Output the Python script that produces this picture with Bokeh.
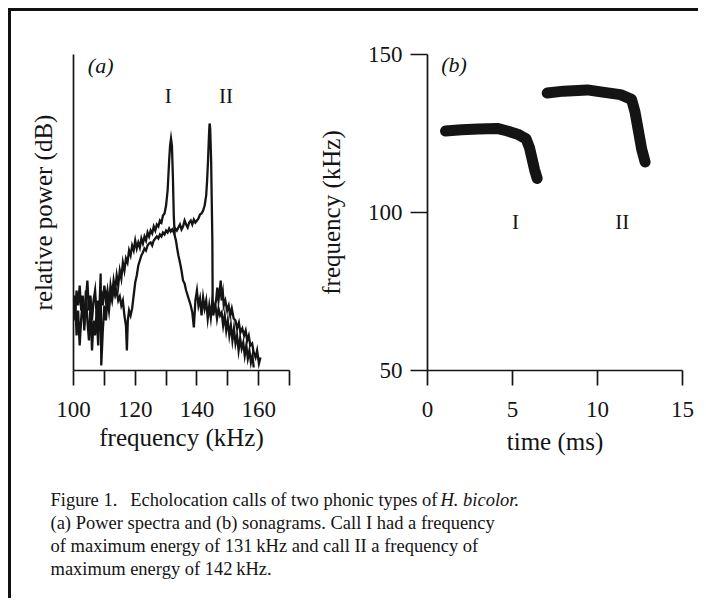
from bokeh.plotting import figure
from bokeh.models import FixedTicker, Range1d
from bokeh.layouts import column, row
from bokeh.embed import file_html
from bokeh.resources import INLINE
from bokeh.core.properties import value

FONT = "Liberation Serif"
INK = "#141414"

# ---------------- data ----------------
# (a) power spectra: frequency (kHz) and relative power (dB above floor)
spec1_freq = [100.0, 100.5, 101.0, 101.5, 102.0, 102.5, 103.0, 103.5, 104.0, 104.5,
              105.0, 105.5, 106.0, 106.5, 107.0, 107.5, 108.0, 108.5, 109.0, 109.5,
              110.0, 110.5, 111.0, 111.5, 112.0, 112.5, 113.0, 113.5, 114.0, 114.5,
              115.0, 115.5, 116.0, 116.5, 117.0, 117.5, 118.0, 118.5, 119.0, 119.5,
              120.0, 120.5, 121.0, 121.5, 122.0, 122.5, 123.0, 123.5, 124.0, 124.5,
              125.0, 125.5, 126.0, 126.5, 127.0, 127.5, 128.0, 128.5, 129.0, 129.5,
              130.0, 130.5, 131.0, 131.3, 131.6, 131.9, 132.2, 132.5, 132.8, 133.2,
              133.6, 134.0, 134.5, 135.0, 135.5, 136.0, 136.5, 137.0, 137.5, 138.0,
              138.5, 139.0, 139.5, 140.0, 140.5, 141.0, 141.5, 142.0, 142.5, 143.0,
              143.5, 144.0, 144.5, 145.0, 145.5, 146.0, 146.5, 147.0, 147.5, 148.0,
              148.5, 149.0, 149.5, 150.0, 150.5, 151.0, 151.5, 152.0, 152.5, 153.0,
              153.5, 154.0, 154.5, 155.0, 155.5, 156.0, 156.5, 157.0, 157.5, 158.0,
              158.4]
spec1_power = [14, 11, 16, 13, 17, 12, 15, 9, 14, 18,
               12, 15, 10, 14, 16, 11, 14, 8, 16, 13,
               17, 14, 16, 13, 17, 15, 18, 16, 19, 17,
               20, 18.4, 21.6, 20, 22.4, 21.6, 24, 23, 25, 24,
               26, 24.4, 25.6, 24.6, 26.4, 25.4, 26.8, 26, 27.6, 26.8,
               28, 27.4, 28.8, 28, 29.2, 28.8, 30, 29.6, 31, 31.4,
               33, 36, 42, 45, 46.4, 45, 39, 31, 27, 26,
               24.4, 23, 21.6, 20, 18, 17.4, 16, 15, 14, 13,
               11.6, 8.6, 14, 16, 13, 14.4, 11, 14.6, 12.4, 14,
               10.4, 13, 10.6, 14, 12, 13, 10.4, 12.4, 11, 11.6,
               9, 11, 8, 10, 7, 9, 6, 8.4, 5.4, 7,
               4, 6.4, 4.4, 5.6, 3, 5, 2.4, 4, 1.6, 3,
               0.6]

spec2_freq = [100.0, 100.5, 101.0, 101.5, 102.0, 102.5, 103.0, 103.5, 104.0, 104.5,
              105.0, 105.5, 106.0, 106.5, 107.0, 107.5, 108.0, 108.5, 108.8, 109.0,
              109.5, 110.0, 110.5, 111.0, 111.5, 112.0, 112.5, 113.0, 113.5, 114.0,
              114.5, 115.0, 115.5, 116.0, 116.5, 117.0, 117.3, 117.6, 118.0, 118.5,
              119.0, 119.5, 120.0, 120.5, 121.0, 121.5, 122.0, 122.5, 123.0, 123.5,
              124.0, 124.5, 125.0, 125.5, 126.0, 126.5, 127.0, 127.5, 128.0, 128.5,
              129.0, 129.5, 130.0, 130.5, 131.0, 131.5, 132.0, 132.5, 133.0, 133.5,
              134.0, 134.5, 135.0, 135.5, 136.0, 136.5, 137.0, 137.5, 138.0, 138.5,
              139.0, 139.5, 140.0, 140.5, 141.0, 141.5, 142.0, 142.5, 143.0, 143.3,
              143.6, 143.9, 144.1, 144.3, 144.6, 144.8, 145.0, 145.1, 145.3, 145.8,
              146.2, 146.6, 147.0, 147.4, 147.7, 148.0, 148.4, 148.7, 149.2, 149.8,
              150.3, 150.8, 151.3, 151.9, 152.5, 153.0, 153.6, 154.1, 154.7, 155.3,
              155.8, 156.3, 156.8, 157.3, 157.9, 158.4, 159.0, 159.5, 160.1, 160.6]
spec2_power = [10, 15, 7, 12, 5, 10.4, 14, 8, 16, 10,
               6, 13, 4, 10, 7, 12, 5, 14, 19.4, 1,
               8, 13, 10, 14.4, 12, 15.6, 14, 16.4, 15, 16,
               14, 14.8, 13, 14, 11, 9, 4, 10, 12, 11,
               12.4, 15, 17.6, 19, 21, 22, 23, 23.6, 24.4, 24,
               25, 25.4, 25.6, 25, 26, 26.4, 26.8, 26.4, 27.2, 26.8,
               27.6, 27.2, 28, 27.6, 28.4, 27.8, 28.2, 27.6, 28.4, 28,
               28.6, 29.2, 28.2, 28.8, 30, 29.2, 28.6, 29.6, 30, 29.2,
               30.2, 29.6, 30, 30.4, 31.2, 31.4, 32, 33, 35, 38,
               42, 47, 49.4, 48.4, 42, 34, 26, 14, 11, 13,
               14, 16.6, 14, 16, 18, 14, 15.6, 13, 14, 12,
               13, 11, 12.4, 10.4, 10, 8.4, 9.6, 7.6, 8.4, 7,
               8, 6, 7, 5, 5.4, 3.6, 2.6, 4, 1.4, 2.6]

spec_ticks = [100, 120, 140, 160]
spec_minor = [110, 130, 150, 170]

# (b) sonagrams: time (ms) and frequency (kHz)
call1_time = [1.06, 2.0, 3.0, 4.1, 4.7, 5.3, 5.8, 6.0, 6.15, 6.3, 6.45]
call1_freq = [125.8, 126.2, 126.4, 126.6, 125.8, 124.8, 123.3, 120.5, 117.0, 113.5, 110.8]
call2_time = [7.04, 8.0, 9.4, 10.4, 11.35, 12.0, 12.2, 12.4, 12.6, 12.8]
call2_freq = [137.8, 138.4, 138.8, 138.0, 137.3, 135.8, 132.0, 126.0, 120.0, 116.0]

sono_xticks = [0, 5, 10, 15]
sono_yticks = [50, 100, 150]

caption_lines = [
    "Figure 1.\u2002\u2009Echolocation calls of two phonic types of",
    "(a) Power spectra and (b) sonagrams. Call I had a frequency",
    "of maximum energy of 131\u2009kHz and call II a frequency of",
    "maximum energy of 142\u2009kHz.",
]
caption_italic = "H. bicolor."


def style_axis(ax, tick_out=15):
    ax.axis_line_color = INK
    ax.axis_line_width = 1.7
    ax.major_tick_line_color = INK
    ax.major_tick_line_width = 1.7
    ax.minor_tick_line_color = INK
    ax.minor_tick_line_width = 1.7
    ax.major_tick_out = tick_out
    ax.major_tick_in = 0
    ax.minor_tick_out = tick_out
    ax.minor_tick_in = 0
    ax.major_label_text_font = FONT
    ax.major_label_text_font_size = "23px"
    ax.major_label_text_color = INK
    ax.major_label_standoff = 16
    ax.axis_label_text_font = FONT
    ax.axis_label_text_font_size = "25px"
    ax.axis_label_text_font_style = "normal"
    ax.axis_label_text_color = INK


common = dict(output_backend="svg", toolbar_location=None, height=462,
              min_border_top=46, min_border_bottom=100,
              background_fill_color=None, border_fill_color=None,
              outline_line_color=None)

# ---------------- panel (a) ----------------
pa = figure(width=300, x_range=Range1d(100, 170), y_range=Range1d(0, 63.2),
            min_border_left=65, min_border_right=19, **common)
pa.grid.visible = False
pa.xaxis.ticker = FixedTicker(ticks=spec_ticks, minor_ticks=spec_minor)
pa.xaxis.axis_label = "frequency (kHz)"
pa.yaxis.ticker = FixedTicker(ticks=[])
pa.yaxis.axis_label = "relative power (dB)"
style_axis(pa.xaxis[0])
style_axis(pa.yaxis[0], tick_out=0)
pa.xaxis.axis_label_standoff = 4
pa.yaxis.axis_label_standoff = 17

pa.line(spec2_freq, spec2_power, line_color=INK, line_width=2.3, line_join="miter")
pa.line(spec1_freq, spec1_power, line_color=INK, line_width=2.3, line_join="miter")

pa.text(x=[108.8], y=[61], text=["(a)"], text_font=value(FONT),
        text_font_size="22px", text_font_style="italic", text_color=INK,
        text_align="center", text_baseline="middle")
pa.text(x=[130.7, 149.4], y=[55, 55], text=["I", "II"], text_font=value(FONT),
        text_font_size="21px", text_color=INK,
        text_align="center", text_baseline="middle")

# ---------------- panel (b) ----------------
pb = figure(width=390, x_range=Range1d(0, 15), y_range=Range1d(50, 150),
            min_border_left=119, min_border_right=16, **common)
pb.grid.visible = False
pb.xaxis.ticker = FixedTicker(ticks=sono_xticks)
pb.xaxis.axis_label = "time (ms)"
pb.yaxis.ticker = FixedTicker(ticks=sono_yticks)
pb.yaxis.axis_label = "frequency (kHz)"
style_axis(pb.xaxis[0])
style_axis(pb.yaxis[0], tick_out=17)
pb.yaxis.major_label_standoff = 8
pb.xaxis.axis_label_standoff = 8
pb.yaxis.axis_label_standoff = 20

pb.line(call1_time, call1_freq, line_color=INK, line_width=11,
        line_cap="round", line_join="round")
pb.line(call2_time, call2_freq, line_color=INK, line_width=11,
        line_cap="round", line_join="round")

pb.text(x=[1.56], y=[146.8], text=["(b)"], text_font=value(FONT),
        text_font_size="22px", text_font_style="italic", text_color=INK,
        text_align="center", text_baseline="middle")
pb.text(x=[5.18, 11.45], y=[97.1, 97.1], text=["I", "II"], text_font=value(FONT),
        text_font_size="21px", text_color=INK,
        text_align="center", text_baseline="middle")

# ---------------- caption ----------------
pc = figure(width=690, height=128, x_range=Range1d(0, 690), y_range=Range1d(128, 0),
            output_backend="svg", toolbar_location=None,
            x_axis_location=None, y_axis_location=None,
            min_border=0, background_fill_color=None, border_fill_color=None,
            outline_line_color=None)
pc.grid.visible = False
pc.text(x=[42, 42, 42, 42], y=[29, 52, 75, 98], text=caption_lines,
        text_font=value(FONT), text_font_size="18.5px", text_color=INK,
        text_align="left", text_baseline="alphabetic")
pc.text(x=[432], y=[29], text=[caption_italic], text_font=value(FONT),
        text_font_size="18.5px", text_font_style="italic", text_color=INK,
        text_align="left", text_baseline="alphabetic")

layout = column(row(pa, pb), pc, margin=(8, 0, 0, 8),
                styles={"box-shadow": "inset 3px 3px 0 0 #111"})

open("out.html", "w").write(file_html(layout, INLINE))
